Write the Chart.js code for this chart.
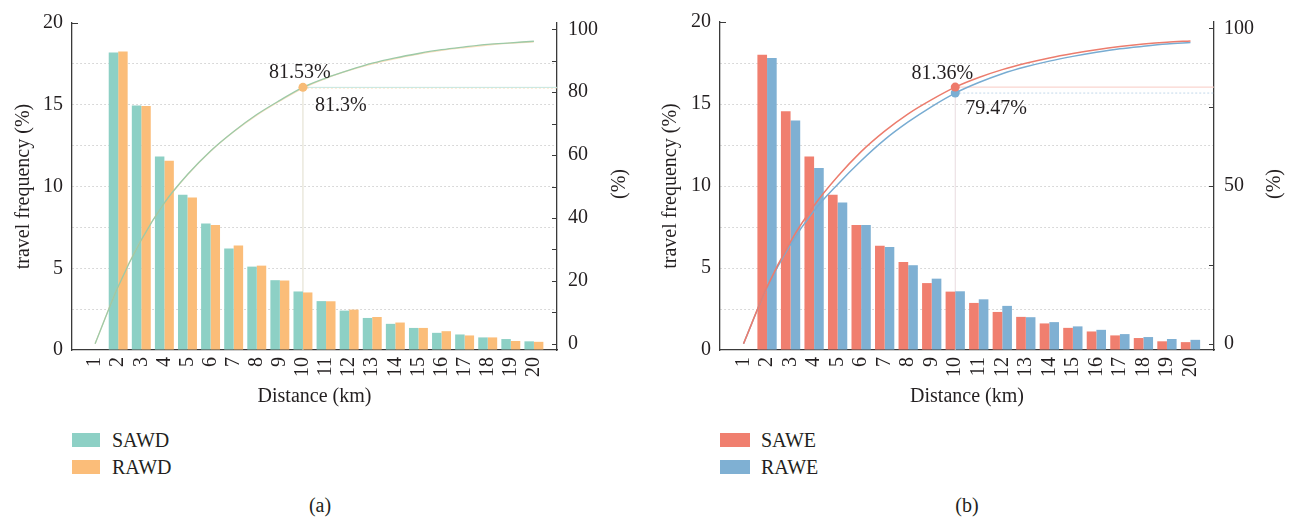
<!DOCTYPE html>
<html>
<head>
<meta charset="utf-8">
<script src="https://cdn.jsdelivr.net/npm/chart.js@4"></script>
<style>
  body { margin: 0; background: #fff; font-family: 'Liberation Serif', 'Times New Roman', serif; color: #231f20; }
  #wrap { position: relative; width: 1295px; height: 519px; overflow: hidden; }
  .panel { position: absolute; top: 0; height: 420px; }
  .txt { position: absolute; font-size: 20px; line-height: 20px; white-space: nowrap; }
  .rtitle { position: absolute; font-size: 20px; line-height: 24px; transform: translate(-50%, -50%) rotate(-90deg); }
  .sq { position: absolute; width: 28px; height: 14px; }
  .cap { position: absolute; font-size: 20px; line-height: 20px; transform: translateX(-50%); }
</style>
</head>
<body>
<div id="wrap">
  <div class="panel" style="left:0;width:647px"><canvas id="chartA"></canvas></div>
  <div class="panel" style="left:647px;width:648px"><canvas id="chartB"></canvas></div>

  <div class="rtitle" style="left:618px;top:184px">(%)</div>
  <div class="rtitle" style="left:1273px;top:184px">(%)</div>

  <div class="sq" style="left:72px;top:433px;background:#8dd0c5"></div>
  <div class="txt" style="left:112px;top:430px">SAWD</div>
  <div class="sq" style="left:72px;top:460px;background:#fbbd79"></div>
  <div class="txt" style="left:112px;top:457px">RAWD</div>

  <div class="sq" style="left:720px;top:433px;width:30px;background:#f07f6f"></div>
  <div class="txt" style="left:761px;top:430px">SAWE</div>
  <div class="sq" style="left:720px;top:460px;width:30px;background:#7fb0d3"></div>
  <div class="txt" style="left:761px;top:457px">RAWE</div>

  <div class="cap" style="left:320px;top:495px">(a)</div>
  <div class="cap" style="left:967px;top:495px">(b)</div>
</div>

<script>
// distance classes (km)
const distances = [1, 2, 3, 4, 5, 6, 7, 8, 9, 10, 11, 12, 13, 14, 15, 16, 17, 18, 19, 20];

// (a) travel frequency (%)
const sawd = [0, 18.2, 14.95, 11.84, 9.49, 7.73, 6.21, 5.1, 4.27, 3.58, 2.99, 2.41, 1.96, 1.6, 1.35, 1.05, 0.95, 0.77, 0.67, 0.53];
const rawd = [0, 18.26, 14.92, 11.58, 9.33, 7.65, 6.39, 5.16, 4.25, 3.52, 2.98, 2.47, 2.02, 1.68, 1.35, 1.15, 0.89, 0.77, 0.55, 0.5];
// (a) cumulative (%)
const sawdCum = [0, 18.2, 33.0, 44.8, 53.8, 61.3, 67.5, 72.9, 77.4, 81.53, 84.5, 87.0, 89.2, 90.9, 92.3, 93.5, 94.4, 95.2, 95.7, 96.2];
const rawdCum = [0, 18.3, 33.1, 44.7, 53.7, 61.2, 67.4, 72.7, 77.2, 81.3, 84.4, 86.9, 89.0, 90.7, 92.1, 93.3, 94.2, 95.0, 95.6, 96.0];

// (b) travel frequency (%)
const sawe = [0, 18.0, 14.56, 11.8, 9.47, 7.62, 6.36, 5.37, 4.08, 3.56, 2.87, 2.32, 2.02, 1.62, 1.35, 1.13, 0.89, 0.73, 0.53, 0.48];
const rawe = [0, 17.8, 14.0, 11.1, 9.0, 7.62, 6.28, 5.17, 4.35, 3.58, 3.09, 2.69, 2.0, 1.7, 1.44, 1.23, 0.97, 0.79, 0.67, 0.62];
// (b) cumulative (%)
const saweCum = [0, 18.0, 32.4, 43.8, 53.0, 60.9, 67.4, 72.9, 77.4, 81.36, 84.4, 86.9, 88.9, 90.6, 92.0, 93.2, 94.2, 95.0, 95.6, 96.0];
const raweCum = [0, 17.8, 31.5, 42.2, 50.5, 58.0, 64.7, 70.3, 75.2, 79.47, 82.8, 85.6, 87.8, 89.6, 91.1, 92.4, 93.5, 94.3, 95.0, 95.5];

// tick values
const leftTicks = [0, 2.5, 5, 7.5, 10, 12.5, 15, 17.5, 20];
const rightTicksA = [0, 10, 20, 30, 40, 50, 60, 70, 80, 90, 100];
const rightTicksB = [0, 25, 50, 75, 100];

const FONT = "'Liberation Serif', 'Times New Roman', serif";
const TEXT = '#231f20';
const AXIS = '#3a3a3a';
const markAt = distances.indexOf(10);

const pts = (vals) => distances.map((d, i) => ({ x: d, y: vals[i] }));

// guide lines, percentage labels and inward tick marks
const extras = {
    id: 'extras',
    beforeDatasetsDraw(chart, args, opts) {
        const ctx = chart.ctx;
        const area = chart.chartArea;
        ctx.save();
        (opts.guides || []).forEach(g => {
            const p = chart.getDatasetMeta(g.dataset).data[markAt];
            ctx.strokeStyle = g.color;
            ctx.lineWidth = 1;
            ctx.setLineDash(g.dash || []);
            ctx.beginPath();
            ctx.moveTo(p.x, p.y);
            if (g.dir === 'down') ctx.lineTo(p.x, area.bottom);
            else ctx.lineTo(area.right, p.y);
            ctx.stroke();
        });
        ctx.restore();
    },
    afterDatasetsDraw(chart, args, opts) {
        const ctx = chart.ctx;
        ctx.save();
        ctx.font = '20px ' + FONT;
        ctx.fillStyle = TEXT;
        ctx.textBaseline = 'middle';
        (opts.labels || []).forEach(l => {
            const p = chart.getDatasetMeta(l.dataset).data[markAt];
            ctx.textAlign = l.align;
            ctx.fillText(l.text, p.x + l.dx, p.y + l.dy);
        });
        ctx.restore();
    },
    afterDraw(chart) {
        const ctx = chart.ctx;
        const r = chart.scales.y1;
        const l = chart.scales.y;
        ctx.save();
        ctx.strokeStyle = AXIS;
        ctx.lineWidth = 1.2;
        ctx.beginPath();
        r.ticks.forEach(t => {
            const y = Math.round(r.getPixelForValue(t.value)) + 0.5;
            ctx.moveTo(r.left - 5, y);
            ctx.lineTo(r.left, y);
        });
        const yTop = Math.round(l.getPixelForValue(l.max)) + 0.5;
        ctx.moveTo(l.right, yTop);
        ctx.lineTo(l.right + 6, yTop);
        ctx.stroke();
        ctx.restore();
    }
};

function makeChart(id, p) {
    const tickFont = { family: FONT, size: 20 };
    return new Chart(document.getElementById(id), {
        type: 'bar',
        data: {
            datasets: [
                {
                    type: 'line', label: p.names[0] + ' cum', data: pts(p.cum[0]), yAxisID: 'y1',
                    borderColor: p.lineColors[0], borderWidth: p.lineWidth, cubicInterpolationMode: 'monotone',
                    pointRadius: (c) => c.dataIndex === markAt ? 4.5 : 0,
                    pointBackgroundColor: p.pointColors[0], pointBorderWidth: 0, order: 0
                },
                {
                    type: 'line', label: p.names[1] + ' cum', data: pts(p.cum[1]), yAxisID: 'y1',
                    borderColor: p.lineColors[1], borderWidth: p.lineWidth, cubicInterpolationMode: 'monotone',
                    pointRadius: (c) => (p.pointColors[1] && c.dataIndex === markAt) ? 4.5 : 0,
                    pointBackgroundColor: p.pointColors[1], pointBorderWidth: 0, order: 0
                },
                {
                    label: p.names[0], data: pts(p.bars[0]), yAxisID: 'y', backgroundColor: p.barColors[0],
                    categoryPercentage: 0.82, barPercentage: 1, order: 1
                },
                {
                    label: p.names[1], data: pts(p.bars[1]), yAxisID: 'y', backgroundColor: p.barColors[1],
                    categoryPercentage: 0.82, barPercentage: 1, order: 1
                }
            ]
        },
        options: {
            responsive: true,
            maintainAspectRatio: false,
            animation: false,
            layout: { padding: { top: 19, left: 0, right: 0, bottom: 0 } },
            plugins: {
                legend: { display: false },
                tooltip: { enabled: false },
                extras: { guides: p.guides, labels: p.labels }
            },
            scales: {
                x: {
                    type: 'linear', min: 0, max: 21, offset: false,
                    afterBuildTicks: (s) => { s.ticks = distances.map(v => ({ value: v })); },
                    afterFit: (s) => { s.height = 70; },
                    grid: { display: false, drawTicks: false, offset: false },
                    border: { display: true, color: AXIS, width: 1.3 },
                    ticks: { font: tickFont, color: TEXT, minRotation: 90, maxRotation: 90, padding: 7, autoSkip: false },
                    title: { display: true, text: 'Distance (km)', font: tickFont, color: TEXT, padding: { top: 0, bottom: 11 } }
                },
                y: {
                    position: 'left', min: 0, max: 20,
                    afterBuildTicks: (s) => { s.ticks = leftTicks.map(v => ({ value: v })); },
                    afterFit: (s) => { s.width = p.leftWidth; },
                    grid: {
                        drawTicks: false,
                        color: (c) => (c.tick.value === 0 || c.tick.value === 20) ? 'rgba(0,0,0,0)' : '#cfcfcf'
                    },
                    border: { display: true, color: AXIS, width: 1.3, dash: [1.5, 2.5] },
                    ticks: {
                        font: tickFont, color: TEXT, padding: 9,
                        callback: (v) => v % 5 === 0 ? String(v) : ''
                    },
                    title: { display: true, text: 'travel frequency (%)', font: tickFont, color: TEXT, padding: { top: 12, bottom: 0 } }
                },
                y1: {
                    position: 'right', min: -2, max: 102,
                    afterBuildTicks: (s) => { s.ticks = p.rightTicks.map(v => ({ value: v })); },
                    afterFit: (s) => { s.width = p.rightWidth; },
                    grid: { display: false, drawTicks: false },
                    border: { display: true, color: AXIS, width: 1.3 },
                    ticks: {
                        font: tickFont, color: TEXT, padding: p.rightPad,
                        callback: (v) => v % p.rightLabelStep === 0 ? String(v) : ''
                    }
                }
            }
        },
        plugins: [extras]
    });
}

makeChart('chartA', {
    names: ['SAWD', 'RAWD'],
    bars: [sawd, rawd],
    cum: [sawdCum, rawdCum],
    barColors: ['#8dd0c5', '#fbbd79'],
    lineColors: ['#9ccaa8', 'rgba(247,190,122,0.5)'],
    pointColors: ['#f7bb76', null],
    lineWidth: 1.3,
    leftWidth: 72, rightWidth: 90, rightPad: 11,
    rightTicks: rightTicksA, rightLabelStep: 20,
    guides: [
        { dataset: 0, dir: 'down', color: '#e0ddcc' },
        { dataset: 1, dir: 'right', color: 'rgba(250,205,150,0.6)', dash: [2, 2] },
        { dataset: 0, dir: 'right', color: '#c6e6df' }
    ],
    labels: [
        { dataset: 0, text: '81.53%', align: 'center', dx: -3, dy: -15 },
        { dataset: 1, text: '81.3%', align: 'left', dx: 12, dy: 18 }
    ]
});

makeChart('chartB', {
    names: ['SAWE', 'RAWE'],
    bars: [sawe, rawe],
    cum: [saweCum, raweCum],
    barColors: ['#f07f6f', '#7fb0d3'],
    lineColors: ['#ec7c6d', '#78acd2'],
    pointColors: ['#ee7a6b', '#7aaed3'],
    lineWidth: 1.5,
    leftWidth: 73, rightWidth: 81, rightPad: 10,
    rightTicks: rightTicksB, rightLabelStep: 50,
    guides: [
        { dataset: 0, dir: 'down', color: '#e8dbdf' },
        { dataset: 1, dir: 'right', color: '#c2d8ea', dash: [2, 2] },
        { dataset: 0, dir: 'right', color: '#f8cac3' }
    ],
    labels: [
        { dataset: 0, text: '81.36%', align: 'center', dx: -13, dy: -13 },
        { dataset: 1, text: '79.47%', align: 'left', dx: 10, dy: 16 }
    ]
});
</script>
</body>
</html>
